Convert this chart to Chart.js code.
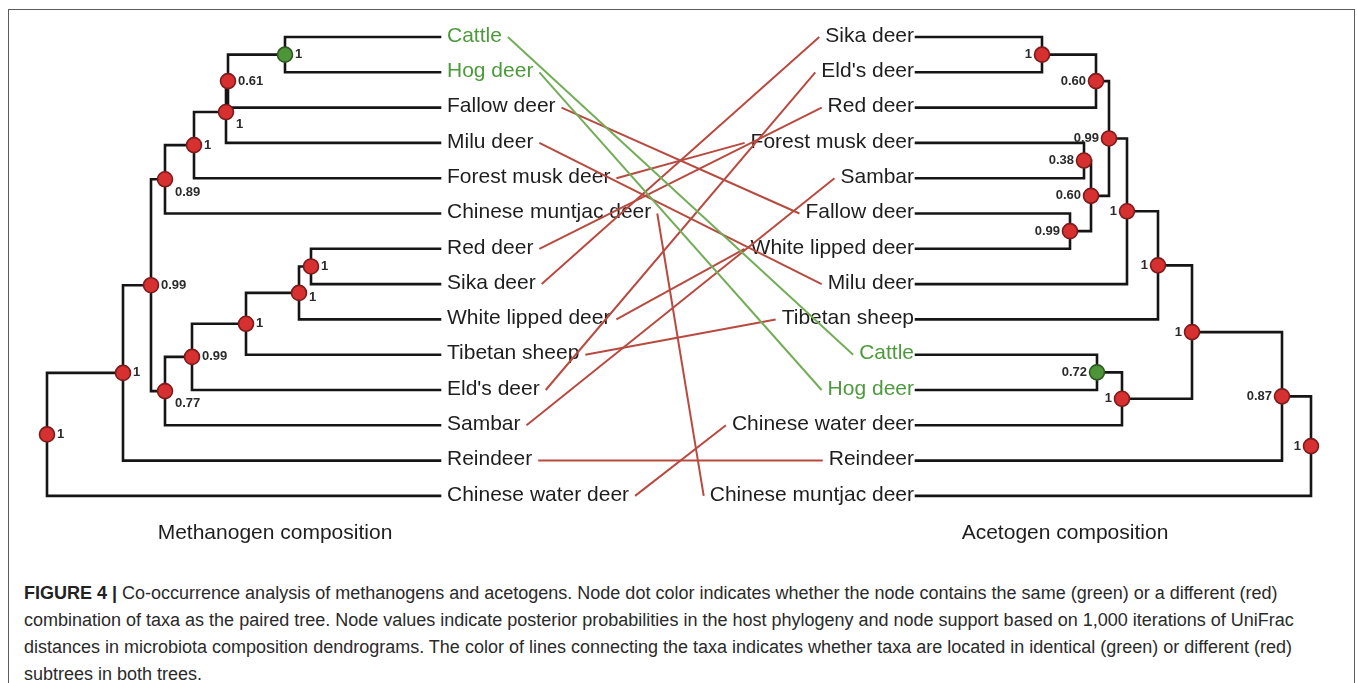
<!DOCTYPE html>
<html>
<head>
<meta charset="utf-8">
<script src="https://cdn.jsdelivr.net/npm/chart.js@4.4.0/dist/chart.umd.min.js"></script>
<style>
body{margin:0;background:#fff;width:1357px;height:683px;overflow:hidden;position:relative;font-family:"Liberation Sans",Arial,sans-serif}
#frame{position:absolute;left:8px;top:9px;width:1347px;height:700px;border:1.5px solid #5c5c5c;box-sizing:border-box}
#wrap{position:absolute;left:0;top:0;width:1357px;height:560px}
#caption{position:absolute;left:24px;top:580px;font-size:18px;line-height:26.9px;color:#2a2a2a;white-space:nowrap}
#caption b{color:#222}
</style>
</head>
<body>
<div id="frame"></div>
<div id="wrap"><canvas id="c" width="1357" height="560"></canvas></div>
<div id="caption"><b>FIGURE 4 |</b> Co-occurrence analysis of methanogens and acetogens. Node dot color indicates whether the node contains the same (green) or a different (red)<br>combination of taxa as the paired tree. Node values indicate posterior probabilities in the host phylogeny and node support based on 1,000 iterations of UniFrac<br>distances in microbiota composition dendrograms. The color of lines connecting the taxa indicates whether taxa are located in identical (green) or different (red)<br>subtrees in both trees.</div>
<script>
// leaf order, top to bottom
var leftLeaves = ['Cattle', 'Hog deer', 'Fallow deer', 'Milu deer', 'Forest musk deer', 'Chinese muntjac deer',
  'Red deer', 'Sika deer', 'White lipped deer', 'Tibetan sheep', "Eld's deer", 'Sambar', 'Reindeer', 'Chinese water deer'];
var rightLeaves = ['Sika deer', "Eld's deer", 'Red deer', 'Forest musk deer', 'Sambar', 'Fallow deer', 'White lipped deer',
  'Milu deer', 'Tibetan sheep', 'Cattle', 'Hog deer', 'Chinese water deer', 'Reindeer', 'Chinese muntjac deer'];
// taxa sitting in identical subtrees of both trees
var sameTaxa = ['Cattle', 'Hog deer'];

// internal nodes: id, child, child, node height, support, same combination
var leftNodes = [
  ['a', 'Cattle', 'Hog deer', 285, '1', true],
  ['b', 'a', 'Fallow deer', 228, '0.61', false],
  ['c', 'b', 'Milu deer', 226, '1', false],
  ['d', 'c', 'Forest musk deer', 194, '1', false],
  ['e', 'd', 'Chinese muntjac deer', 165, '0.89', false],
  ['f', 'Red deer', 'Sika deer', 311, '1', false],
  ['g', 'f', 'White lipped deer', 299, '1', false],
  ['h', 'g', 'Tibetan sheep', 246, '1', false],
  ['i', 'h', "Eld's deer", 192, '0.99', false],
  ['j', 'i', 'Sambar', 165, '0.77', false],
  ['k', 'e', 'j', 151, '0.99', false],
  ['l', 'k', 'Reindeer', 123, '1', false],
  ['m', 'l', 'Chinese water deer', 47, '1', false]
];
var rightNodes = [
  ['A', 'Sika deer', "Eld's deer", 1042, '1', false],
  ['B', 'A', 'Red deer', 1096, '0.60', false],
  ['C', 'Forest musk deer', 'Sambar', 1084, '0.38', false],
  ['D', 'Fallow deer', 'White lipped deer', 1070, '0.99', false],
  ['E', 'C', 'D', 1091, '0.60', false],
  ['F', 'B', 'E', 1109, '0.99', false],
  ['G', 'F', 'Milu deer', 1127, '1', false],
  ['H', 'G', 'Tibetan sheep', 1158, '1', false],
  ['I', 'Cattle', 'Hog deer', 1097, '0.72', true],
  ['J', 'I', 'Chinese water deer', 1122, '1', false],
  ['K', 'H', 'J', 1192, '1', false],
  ['L', 'K', 'Reindeer', 1282, '0.87', false],
  ['M', 'L', 'Chinese muntjac deer', 1311, '1', false]
];

// style
var leafFont = '21px "Liberation Sans", Arial, sans-serif';
var supFont = 'bold 13px "Liberation Sans", Arial, sans-serif';
var black = '#151515', greenTxt = '#4d9a3c', redLine = '#b84a40', greenLine = '#74ad58';
var leftTip = 440, leftText = 447, rightTip = 916, rightText = 914;
var leftLabelDy = {c: 12, e: 13, g: 5, j: 12};

function layout(nodes, leaves, tipX) {
  var pos = {};
  leaves.forEach(function(n, i) { pos[n] = {x: tipX, y: i}; });
  nodes.forEach(function(n) {
    pos[n[0]] = {x: n[3], y: (pos[n[1]].y + pos[n[2]].y) / 2};
  });
  return pos;
}
var lpos = layout(leftNodes, leftLeaves, leftTip);
var rpos = layout(rightNodes, rightLeaves, rightTip);

var datasets = [];
function addTree(nodes, pos) {
  var pts = [], cols = [], borders = [];
  nodes.forEach(function(n) {
    var p = pos[n[0]];
    [n[1], n[2]].forEach(function(k) {
      var q = pos[k];
      datasets.push({
        data: [{x: p.x, y: p.y}, {x: p.x, y: q.y}, {x: q.x, y: q.y}],
        showLine: true, borderColor: black, borderWidth: 2.6, pointRadius: 0,
        borderCapStyle: 'square', borderJoinStyle: 'miter', order: 2
      });
    });
    pts.push({x: p.x, y: p.y});
    cols.push(n[5] ? '#4e9438' : '#d63030');
    borders.push(n[5] ? '#2c5a1f' : '#7d1a1a');
  });
  datasets.push({data: pts, pointRadius: 7.5, pointBackgroundColor: cols, pointBorderColor: borders,
    pointBorderWidth: 1.6, showLine: false, order: 1});
}
addTree(leftNodes, lpos);
addTree(rightNodes, rpos);

// connecting lines between the same taxa
var mctx = document.createElement('canvas').getContext('2d');
mctx.font = leafFont;
leftLeaves.forEach(function(name, i) {
  var j = rightLeaves.indexOf(name);
  var w = mctx.measureText(name).width;
  var x1 = leftText + w + 6, x2 = rightText - w - 6;
  datasets.push({
    data: [{x: x1, y: i}, {x: x2, y: j}],
    showLine: true, pointRadius: 0, borderWidth: 2,
    borderColor: sameTaxa.indexOf(name) >= 0 ? greenLine : redLine, order: 3
  });
});

var textPlugin = {
  id: 'treeText',
  beforeDatasetsDraw: function(chart) {
    var ctx = chart.ctx, xs = chart.scales.x, ys = chart.scales.y;
    ctx.save();
    ctx.font = leafFont;
    ctx.textBaseline = 'middle';
    ctx.textAlign = 'left';
    leftLeaves.forEach(function(n, i) {
      ctx.fillStyle = sameTaxa.indexOf(n) >= 0 ? greenTxt : '#1e1e1e';
      ctx.fillText(n, xs.getPixelForValue(leftText), ys.getPixelForValue(i) - 1);
    });
    ctx.textAlign = 'right';
    rightLeaves.forEach(function(n, i) {
      ctx.fillStyle = sameTaxa.indexOf(n) >= 0 ? greenTxt : '#1e1e1e';
      ctx.fillText(n, xs.getPixelForValue(rightText), ys.getPixelForValue(i) - 1);
    });
    ctx.textAlign = 'center';
    ctx.fillStyle = '#1e1e1e';
    ctx.fillText('Methanogen composition', xs.getPixelForValue(275), ys.getPixelForValue(14.05));
    ctx.fillText('Acetogen composition', xs.getPixelForValue(1065), ys.getPixelForValue(14.05));
    ctx.restore();
  },
  afterDatasetsDraw: function(chart) {
    var ctx = chart.ctx, xs = chart.scales.x, ys = chart.scales.y;
    ctx.save();
    ctx.font = supFont;
    ctx.fillStyle = '#2b2b2b';
    ctx.textBaseline = 'middle';
    ctx.textAlign = 'left';
    leftNodes.forEach(function(n) {
      var p = lpos[n[0]];
      ctx.fillText(n[4], xs.getPixelForValue(p.x) + 10, ys.getPixelForValue(p.y) + (leftLabelDy[n[0]] || 0));
    });
    ctx.textAlign = 'right';
    rightNodes.forEach(function(n) {
      var p = rpos[n[0]];
      ctx.fillText(n[4], xs.getPixelForValue(p.x) - 10, ys.getPixelForValue(p.y));
    });
    ctx.restore();
  }
};

new Chart(document.getElementById('c'), {
  type: 'scatter',
  data: {datasets: datasets},
  options: {
    responsive: false,
    animation: false,
    events: [],
    layout: {padding: 0, autoPadding: false},
    plugins: {legend: {display: false}, tooltip: {enabled: false}},
    scales: {
      x: {type: 'linear', display: false, min: 0, max: 1357},
      y: {type: 'linear', display: false, reverse: true, min: -1.048, max: 14.816}
    }
  },
  plugins: [textPlugin]
});
</script>
</body>
</html>
